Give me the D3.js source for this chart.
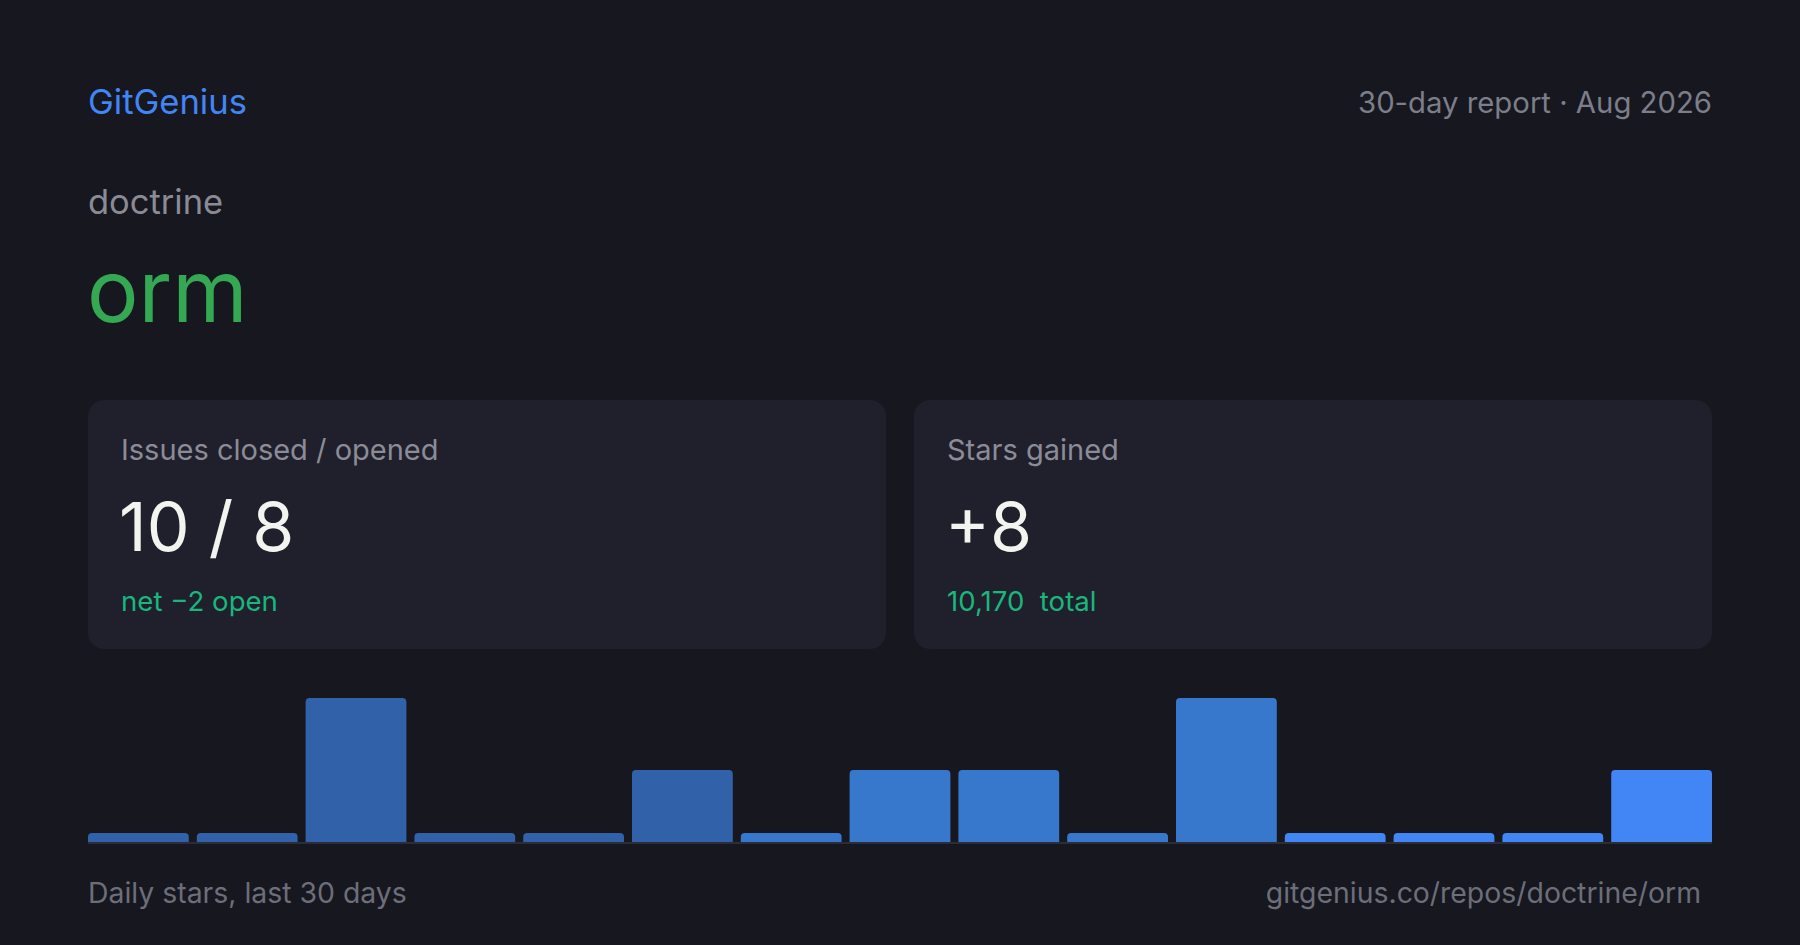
<!DOCTYPE html>
<html>
<head>
<meta charset="utf-8">
<script src="https://cdn.jsdelivr.net/npm/d3@7"></script>
<style>
  html, body { margin: 0; padding: 0; background: #16171f; }
  svg { display: block; font-family: Inter, "Noto Sans", sans-serif; }
</style>
</head>
<body>
<div id="chart"></div>
<script>
// repo + report info
const brand = "GitGenius";
const reportLabel = "30-day report · Aug 2026";
const repoOwner = "doctrine";
const repoName = "orm";

// stat cards
const cardTitles = ["Issues closed / opened", "Stars gained"];
const cardValues = ["10 / 8", "+8"];
const cardNotes = ["net −2 open", "10,170  total"];

// daily stars (bars)
const barDays = d3.range(1, 16);
const barStars = [0, 0, 2, 0, 0, 1, 0, 1, 1, 0, 2, 0, 0, 0, 1];

const footLeft = "Daily stars, last 30 days";
const footRight = "gitgenius.co/repos/doctrine/orm";

const width = 1800;
const height = 945;
const pad = 88;

const svg = d3.select("#chart")
    .append("svg")
    .attr("width", width)
    .attr("height", height);

svg.append("rect")
    .attr("width", width)
    .attr("height", height)
    .attr("fill", "#16171f");

// header
svg.append("text")
    .attr("x", pad).attr("y", 114)
    .style("font-size", "34.6px")
    .style("fill", "#4285f4")
    .text(brand);

svg.append("text")
    .attr("x", width - pad).attr("y", 113)
    .attr("text-anchor", "end")
    .style("font-size", "29.3px")
    .style("fill", "#7c7e89")
    .text(reportLabel);

svg.append("text")
    .attr("x", pad).attr("y", 214)
    .style("font-size", "34.5px")
    .style("fill", "#8a8b94")
    .text(repoOwner);

svg.append("text")
    .attr("x", pad - 1).attr("y", 322)
    .style("font-size", "86px")
    .style("fill", "#34a853")
    .text(repoName);

// cards
const cardGap = 28;
const cardW = (width - 2 * pad - cardGap) / 2;
const cardTop = 400;
const cardH = 249;

const cards = svg.selectAll(".card")
    .data(cardTitles.map((t, i) => ({ title: t, value: cardValues[i], note: cardNotes[i] })))
    .enter()
    .append("g")
    .attr("class", "card")
    .attr("transform", (d, i) => `translate(${pad + i * (cardW + cardGap)}, ${cardTop})`);

cards.append("rect")
    .attr("width", cardW)
    .attr("height", cardH)
    .attr("rx", 16)
    .attr("fill", "#1f202b");

cards.append("text")
    .attr("x", 33).attr("y", 60)
    .style("font-size", "29px")
    .style("fill", "#8b8c97")
    .text(d => d.title);

cards.append("text")
    .attr("x", 31).attr("y", 151)
    .style("font-size", "68px")
    .style("fill", "#f3f3ef")
    .text(d => d.value);

cards.append("text")
    .attr("x", 33).attr("y", 211)
    .style("font-size", "27.6px")
    .style("fill", "#19b67e")
    .style("white-space", "pre")
    .text(d => d.note);

// bars
const barBase = 842;
const barMaxH = 144;
const minBarH = 9;

const x = d3.scaleBand()
    .domain(barDays)
    .range([pad, width - pad])
    .paddingInner(8 / 108.8)
    .paddingOuter(0);

const y = d3.scaleLinear()
    .domain([0, d3.max(barStars)])
    .range([barBase, barBase - barMaxH]);

const barColor = d3.scaleThreshold()
    .domain([6, 11])
    .range(["#3061a9", "#3878cc", "#4285f4"]);

const r = 4;
function barPath(x0, w, top) {
    return `M${x0},${barBase}V${top + r}Q${x0},${top} ${x0 + r},${top}` +
        `H${x0 + w - r}Q${x0 + w},${top} ${x0 + w},${top + r}V${barBase}Z`;
}

svg.selectAll(".bar")
    .data(barStars.map((v, i) => ({ day: barDays[i], stars: v, idx: i })))
    .enter()
    .append("path")
    .attr("class", "bar")
    .attr("d", d => {
        const top = Math.min(y(d.stars), barBase - minBarH);
        return barPath(x(d.day), x.bandwidth(), top);
    })
    .attr("fill", d => barColor(d.idx));

svg.append("rect")
    .attr("x", pad)
    .attr("y", barBase)
    .attr("width", width - 2 * pad)
    .attr("height", 2)
    .attr("fill", "#2a2c38");

// footer
svg.append("text")
    .attr("x", pad).attr("y", 903)
    .style("font-size", "28.4px")
    .style("fill", "#6c6e79")
    .text(footLeft);

svg.append("text")
    .attr("x", width - pad - 11).attr("y", 903)
    .attr("text-anchor", "end")
    .style("font-size", "28.4px")
    .style("fill", "#6c6e79")
    .text(footRight);
</script>
</body>
</html>
